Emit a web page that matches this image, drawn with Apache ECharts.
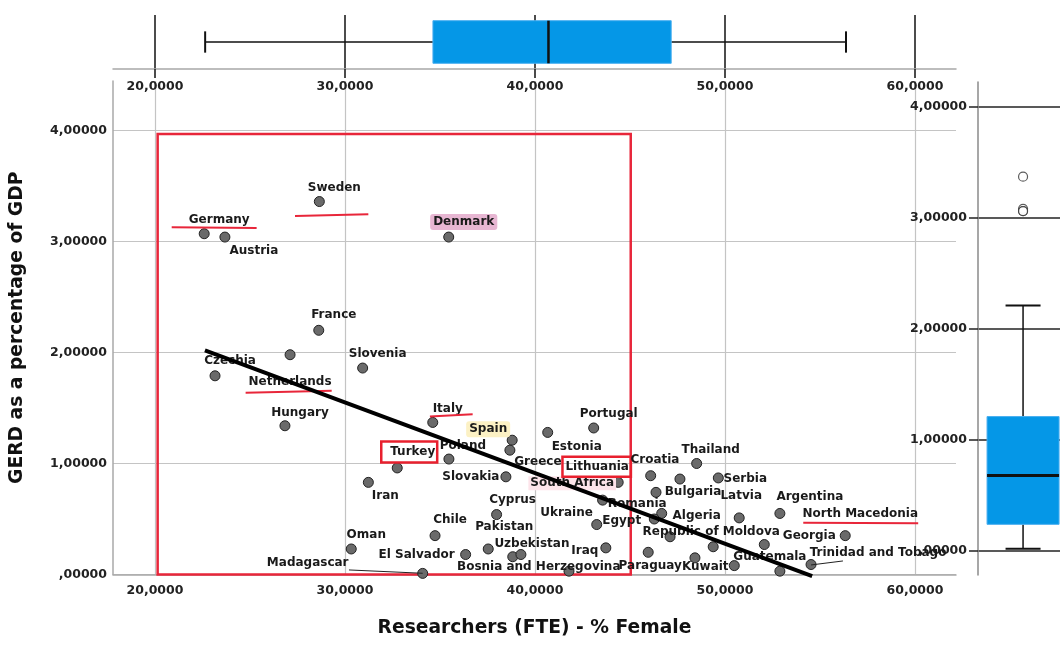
<!DOCTYPE html>
<html>
<head>
<meta charset="utf-8">
<script src="https://cdn.jsdelivr.net/npm/echarts@6/dist/echarts.min.js"></script>
<style>
html, body { margin: 0; padding: 0; background: #fff; }
#chart { width: 1060px; height: 647px; }
</style>
</head>
<body>
<div id="chart"></div>
<script>
// scatter values
const countries = ['Germany', 'Austria', 'Sweden', 'Denmark', 'France', 'Netherlands', 'Czechia', 'Slovenia',
  'Hungary', 'Italy', 'Spain', 'Greece', 'Poland', 'Turkey', 'Iran', 'Estonia', 'Portugal', 'Slovakia',
  'South Africa', 'Ukraine', 'Egypt', 'Cyprus', 'Chile', 'Oman', 'El Salvador', 'Madagascar', 'Pakistan',
  'Bosnia and Herzegovina', 'Uzbekistan', 'Iraq', 'Paraguay', '', 'Thailand', 'Lithuania', 'Croatia', 'Serbia',
  'Bulgaria', 'Algeria', 'Romania', 'Latvia', 'Argentina', '', 'Republic of Moldova', 'Georgia',
  'North Macedonia', '', 'Kuwait', 'Guatemala', 'Trinidad and Tobago'];
const femalePct = [22.59, 23.68, 28.65, 35.46, 28.62, 27.11, 23.16, 30.93,
  26.84, 34.62, 38.80, 38.68, 35.47, 32.75, 31.23, 40.67, 43.09, 38.47,
  44.38, 43.56, 43.25, 37.98, 34.74, 30.33, 36.35, 34.09, 37.54,
  38.83, 39.26, 43.73, 45.96, 41.79, 48.51, 46.09, 47.63, 49.65,
  46.37, 46.67, 46.28, 50.75, 52.89, 47.11, 49.38, 52.07,
  56.33, 48.42, 50.49, 52.89, 54.53];
const gerd = [3.07, 3.04, 3.36, 3.04, 2.20, 1.98, 1.79, 1.86,
  1.34, 1.37, 1.21, 1.12, 1.04, 0.96, 0.83, 1.28, 1.32, 0.88,
  0.83, 0.67, 0.45, 0.54, 0.35, 0.23, 0.18, 0.01, 0.23,
  0.16, 0.18, 0.24, 0.20, 0.03, 1.00, 0.89, 0.86, 0.87,
  0.74, 0.55, 0.50, 0.51, 0.55, 0.34, 0.25, 0.27,
  0.35, 0.15, 0.08, 0.03, 0.09];

const xTicks = [20, 30, 40, 50, 60];
const yTicks = [0, 1, 2, 3, 4];

// marginal box plots: [min, q1, median, q3, max]
const femaleBox = [22.64, 34.63, 40.71, 47.17, 56.37];
const gerdBox = [0.02, 0.24, 0.68, 1.21, 2.21];
const gerdOutliers = [3.37, 3.08, 3.06, 3.06];

// fit line end points
const fitLine = [[22.63, 2.02], [54.59, -0.015]];

// hand drawn marks on the picture (data units)
const redFrame = [[20.14, 3.968], [45.04, -0.034]];
const underlines = [
  [[20.88, 3.128], [25.35, 3.122]],
  [[27.37, 3.230], [31.23, 3.245]],
  [[24.77, 1.638], [29.30, 1.656]],
  [[34.47, 1.423], [36.72, 1.443]],
  [[54.12, 0.467], [60.17, 0.461]]
];
const leaders = [
  [[34.09, 0.011], [30.21, 0.041]],
  [[54.53, 0.086], [56.21, 0.122]]
];

// where each point label sits, in pixels from its point
const labelOffset = {
  'Germany': [15, -14], 'Austria': [29, 14], 'Sweden': [15, -14], 'Denmark': [15, -15],
  'France': [15, -15], 'Netherlands': [0, 27], 'Czechia': [15, -15], 'Slovenia': [15, -14],
  'Hungary': [15, -13], 'Italy': [15, -14], 'Spain': [-24, -11], 'Greece': [28, 12],
  'Poland': [14, -13], 'Turkey': [12, -16], 'Iran': [17, 14], 'Estonia': [29, 14],
  'Portugal': [15, -14], 'Slovakia': [-35, 0], 'South Africa': [-46, 1], 'Ukraine': [-36, 13],
  'Egypt': [25, -4], 'Cyprus': [16, -15], 'Chile': [15, -16], 'Oman': [15, -14],
  'El Salvador': [-49, 0], 'Madagascar': [-115, -11], 'Pakistan': [16, -22],
  'Bosnia and Herzegovina': [26, 10], 'Uzbekistan': [11, -11], 'Iraq': [-21, 3],
  'Paraguay': [2, 14], 'Thailand': [14, -14], 'Lithuania': [-54, -9], 'Croatia': [-25, -19],
  'Serbia': [27, 1], 'Bulgaria': [37, 0], 'Algeria': [35, 2], 'Romania': [-17, -15],
  'Latvia': [2, -22], 'Argentina': [30, -17], 'Republic of Moldova': [-2, -15],
  'Georgia': [45, -9], 'North Macedonia': [15, -22], 'Kuwait': [-29, 1],
  'Guatemala': [-10, -14], 'Trinidad and Tobago': [67, -12]
};
const labelMarks = {
  'Denmark': {backgroundColor: '#e7b6d2', padding: [2, 3], borderRadius: 3},
  'Spain': {backgroundColor: '#fcf1c4', padding: [2, 3], borderRadius: 3},
  'South Africa': {backgroundColor: '#fde4ea', padding: [1, 2]},
  'Turkey': {borderColor: '#e8202e', borderWidth: 2.5, padding: [5, 2, 4, 9]},
  'Lithuania': {borderColor: '#e8202e', borderWidth: 2.5, padding: [4, 2, 4, 3]}
};

const FONT = 'DejaVu Sans';
const red = '#e8263a';

function fmt(d) {
  return function (v) {
    return v === 0 ? ',' + '0'.repeat(d) : v.toFixed(d).replace('.', ',');
  };
}

// box plot drawn with the axes' own coords
function boxItem(horizontal, boxSize, capSize, medianW) {
  return function (params, api) {
    const pos = api.value(0);
    const v = [1, 2, 3, 4, 5].map(function (i) { return api.value(i); });
    const at = function (val, off) {
      const p = horizontal ? api.coord([val, pos]) : api.coord([pos, val]);
      return horizontal ? [p[0], p[1] + off] : [p[0] + off, p[1]];
    };
    const seg = function (a, b, w) {
      return {type: 'line', shape: {x1: a[0], y1: a[1], x2: b[0], y2: b[1]},
        style: {stroke: '#111', lineWidth: w}};
    };
    const q1 = at(v[1], -boxSize / 2), q3 = at(v[3], boxSize / 2);
    return {
      type: 'group',
      children: [
        seg(at(v[0], 0), at(v[1], 0), 1.5),
        seg(at(v[3], 0), at(v[4], 0), 1.5),
        seg(at(v[0], -capSize / 2), at(v[0], capSize / 2), 2),
        seg(at(v[4], -capSize / 2), at(v[4], capSize / 2), 2),
        {type: 'rect', shape: {
          x: Math.min(q1[0], q3[0]), y: Math.min(q1[1], q3[1]),
          width: Math.abs(q3[0] - q1[0]), height: Math.abs(q3[1] - q1[1])},
          style: {fill: '#0597e7', stroke: '#48aef0', lineWidth: 1}},
        seg(at(v[2], -boxSize / 2), at(v[2], boxSize / 2), medianW)
      ]
    };
  };
}

const tickText = {color: '#222', fontFamily: FONT, fontWeight: 'bold', fontSize: 12.5};
const titleText = {color: '#111', fontFamily: FONT, fontWeight: 'bold', fontSize: 18.7};

const points = countries.map(function (name, i) {
  const off = labelOffset[name] || [0, 0];
  return {
    name: name,
    value: [femalePct[i], gerd[i]],
    label: Object.assign({offset: off}, labelMarks[name] || {})
  };
});

const chart = echarts.init(document.getElementById('chart'));
chart.setOption({
  animation: false,
  backgroundColor: '#fff',
  grid: [
    {left: 113, right: 104, top: 15, height: 54},
    {left: 113, right: 104, top: 81, bottom: 72.5},
    {left: 978, right: 0, top: 82, bottom: 72}
  ],
  xAxis: [
    {
      type: 'value', gridIndex: 0, min: 17.79, max: 62.16,
      axisLine: {show: true, lineStyle: {color: '#a8a8a8', width: 1.5}},
      axisTick: {show: true, inside: false, length: 9, customValues: xTicks, lineStyle: {color: '#111', width: 1.5}},
      splitLine: {show: true, lineStyle: {color: '#111', width: 1.5}},
      axisLabel: Object.assign({customValues: xTicks, formatter: fmt(4), margin: 11}, tickText)
    },
    {
      type: 'value', gridIndex: 1, min: 17.79, max: 62.16,
      axisLine: {show: true, lineStyle: {color: '#a8a8a8', width: 1.5}},
      axisTick: {show: false, customValues: xTicks},
      splitLine: {show: true, lineStyle: {color: '#c4c4c4', width: 1.2}},
      axisLabel: Object.assign({customValues: xTicks, formatter: fmt(4), margin: 10}, tickText),
      name: 'Researchers (FTE) - % Female', nameLocation: 'middle', nameGap: 44,
      nameTextStyle: titleText
    },
    // the right panel runs off the page, so its centre sits right of the visible middle
    {type: 'value', gridIndex: 2, min: 0, max: 0.91, show: false}
  ],
  yAxis: [
    {type: 'value', gridIndex: 0, min: 0, max: 1, show: false},
    {
      type: 'value', gridIndex: 1, min: 0, max: 4.446,
      axisLine: {show: true, lineStyle: {color: '#a8a8a8', width: 1.5}},
      axisTick: {show: false, customValues: yTicks},
      splitLine: {show: true, lineStyle: {color: '#c4c4c4', width: 1.2}},
      axisLabel: Object.assign({customValues: yTicks, formatter: fmt(5), margin: 6}, tickText),
      name: 'GERD as a percentage of GDP', nameLocation: 'middle', nameGap: 86,
      nameTextStyle: titleText
    },
    {
      type: 'value', gridIndex: 2, min: -0.216, max: 4.222,
      axisLine: {show: true, onZero: false, lineStyle: {color: '#8a8a8a', width: 1.5}},
      axisTick: {show: true, length: 9, customValues: yTicks, lineStyle: {color: '#222', width: 1.5}},
      splitLine: {show: true, lineStyle: {color: '#222', width: 1.5}},
      axisLabel: Object.assign({customValues: yTicks, formatter: fmt(5), margin: 11}, tickText)
    }
  ],
  series: [
    {
      type: 'custom', xAxisIndex: 0, yAxisIndex: 0, silent: true, z: 3,
      renderItem: boxItem(true, 42.6, 21.3, 2.5),
      data: [[0.5].concat(femaleBox)]
    },
    {
      type: 'custom', xAxisIndex: 2, yAxisIndex: 2, silent: true, z: 3, clip: false,
      renderItem: boxItem(false, 72, 35, 3),
      data: [[0.5].concat(gerdBox)]
    },
    {
      type: 'scatter', xAxisIndex: 2, yAxisIndex: 2, silent: true, z: 4,
      symbol: 'circle', symbolSize: 9,
      itemStyle: {color: '#fff', borderColor: '#333', borderWidth: 1.2},
      data: gerdOutliers.map(function (v) { return [0.5, v]; })
    },
    {
      type: 'scatter', xAxisIndex: 1, yAxisIndex: 1, silent: true, z: 3, clip: false,
      symbol: 'circle', symbolSize: 10,
      itemStyle: {color: '#6a6a6a', borderColor: '#222', borderWidth: 1, opacity: 1},
      label: {
        show: true, position: 'inside', formatter: '{b}',
        color: '#1a1a1a', fontFamily: FONT, fontWeight: 'bold', fontSize: 12
      },
      data: points
    },
    {
      type: 'line', xAxisIndex: 1, yAxisIndex: 1, silent: true, z: 5, clip: false,
      symbol: 'none',
      lineStyle: {color: '#000', width: 4},
      data: fitLine,
      markArea: {
        silent: true,
        itemStyle: {color: 'rgba(0,0,0,0)', borderColor: red, borderWidth: 2.5},
        label: {show: false},
        data: [[{coord: redFrame[0]}, {coord: redFrame[1]}]]
      },
      markLine: {
        silent: true, symbol: 'none', animation: false,
        label: {show: false},
        lineStyle: {color: red, width: 2, type: 'solid'},
        data: underlines.map(function (u) {
          return [{coord: u[0]}, {coord: u[1]}];
        }).concat(leaders.map(function (l) {
          return [{coord: l[0], lineStyle: {color: '#222', width: 1, type: 'solid'}}, {coord: l[1]}];
        }))
      }
    }
  ]
});
</script>
</body>
</html>
